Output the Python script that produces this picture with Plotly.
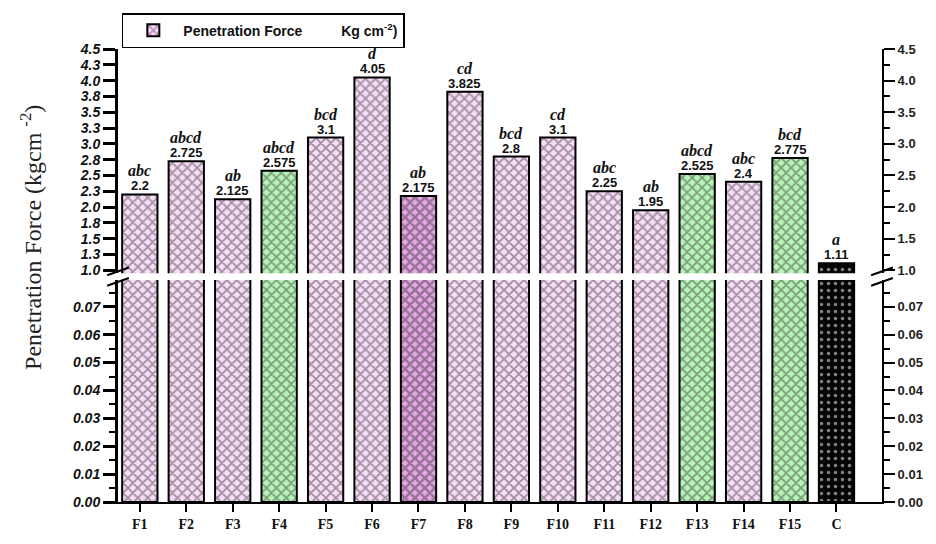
import plotly.graph_objects as go

# Formulations and measured penetration force (kg cm^-2)
categories = ["F1", "F2", "F3", "F4", "F5", "F6", "F7", "F8", "F9", "F10",
              "F11", "F12", "F13", "F14", "F15", "C"]
values = [2.2, 2.725, 2.125, 2.575, 3.1, 4.05, 2.175, 3.825, 2.8, 3.1,
          2.25, 1.95, 2.525, 2.4, 2.775, 1.11]
value_labels = ["2.2", "2.725", "2.125", "2.575", "3.1", "4.05", "2.175", "3.825",
                "2.8", "3.1", "2.25", "1.95", "2.525", "2.4", "2.775", "1.11"]
groups = ["abc", "abcd", "ab", "abcd", "bcd", "d", "ab", "cd", "bcd", "cd",
          "abc", "ab", "abcd", "abc", "bcd", "a"]
# fill style per bar: p = pink hatch, d = dark purple hatch, g = green hatch, k = black dots
styles = ["p", "p", "p", "g", "p", "p", "d", "p", "p", "p",
          "p", "p", "g", "p", "g", "k"]

# Left upper tick labels (0.25 steps, one decimal)
upper_ticks = [1.0, 1.25, 1.5, 1.75, 2.0, 2.25, 2.5, 2.75, 3.0, 3.25, 3.5, 3.75, 4.0, 4.25, 4.5]
upper_ticktext = ["1.0", "1.3", "1.5", "1.8", "2.0", "2.3", "2.5", "2.8", "3.0",
                  "3.3", "3.5", "3.8", "4.0", "4.3", "4.5"]

palette = {
    "p": dict(bg="#f8dcf8", fg="#7a467e", shape="x", solid=0.45),
    "d": dict(bg="#e9a6e9", fg="#430a47", shape="x", solid=0.6),
    "g": dict(bg="#b6f5b6", fg="#5a985a", shape="x", solid=0.45),
    "k": dict(bg="#050505", fg="#ffffff", shape=".", solid=0.2),
}
bg = [palette[s]["bg"] for s in styles]
fg = [palette[s]["fg"] for s in styles]
shapes_ = [palette[s]["shape"] for s in styles]
solid = [palette[s]["solid"] for s in styles]

SANS = "Liberation Sans, Arial, sans-serif"
SERIF = "Liberation Serif, Times New Roman, serif"

LOW_RANGE = [0, 0.0796]
UP_RANGE = [0.954, 4.5]
LOW_DOMAIN = [0, 0.490]
UP_DOMAIN = [0.505, 1.0]


def bar_trace(yaxis, show):
    return go.Bar(
        x=categories, y=values, xaxis="x", yaxis=yaxis, width=0.76,
        name="Penetration Force" + "\u00a0" * 10 + "Kg cm<sup>-2</sup>)",
        showlegend=show,
        marker=dict(
            color=bg,
            line=dict(color="#000000", width=2),
            pattern=dict(shape=shapes_, fgcolor=fg,
                         size=7, solidity=solid, fillmode="overlay"),
        ),
        hoverinfo="x+y",
    )


fig = go.Figure()
fig.add_trace(bar_trace("y", False))
fig.add_trace(bar_trace("y3", True))
# empty traces so the right-hand axes are rendered
for ax in ("y2", "y4"):
    fig.add_trace(go.Scatter(x=[], y=[], xaxis="x", yaxis=ax, showlegend=False,
                             hoverinfo="skip"))

tickfont_left = dict(family=SANS, size=14, color="#111111", weight="bold", style="italic")
tickfont_right = dict(family=SANS, size=13, color="#222222", weight="bold")

fig.update_layout(
    width=936, height=544,
    margin=dict(l=118, r=45, t=49, b=28),
    paper_bgcolor="white", plot_bgcolor="white",
    barmode="overlay",
    showlegend=True,
    legend=dict(x=0.005, y=1.079, xanchor="left", yanchor="top",
                bgcolor="white", bordercolor="#000000", borderwidth=1.5,
                font=dict(family=SANS, size=14, color="#111111", weight="bold"),
                itemwidth=50, tracegroupgap=0),
    xaxis=dict(
        anchor="y", range=[-0.47, 15.98], showline=True, linecolor="#000000",
        linewidth=2, ticks="outside", ticklen=8, tickwidth=2, tickcolor="#000000",
        tickfont=dict(family=SERIF, size=14, color="#111111", weight="bold"),
        showgrid=False, zeroline=False,
    ),
    yaxis=dict(
        domain=LOW_DOMAIN, range=LOW_RANGE, anchor="x", side="left",
        dtick=0.01, tick0=0, tickformat=".2f",
        showline=True, linecolor="#000000", linewidth=3,
        ticks="outside", ticklen=12, tickwidth=2.5, tickcolor="#000000",
        minor=dict(ticks="outside", dtick=0.005, ticklen=6, tickwidth=2, tickcolor="#000000"),
        tickfont=tickfont_left, showgrid=False, zeroline=False,
    ),
    yaxis2=dict(
        overlaying="y", side="right", anchor="x", range=LOW_RANGE,
        dtick=0.01, tick0=0, tickformat=".2f",
        showline=True, linecolor="#000000", linewidth=2,
        ticks="outside", ticklen=11, tickwidth=2, tickcolor="#000000",
        minor=dict(ticks="outside", dtick=0.005, ticklen=6, tickwidth=1.5, tickcolor="#000000"),
        tickfont=tickfont_right, showgrid=False, zeroline=False,
    ),
    yaxis3=dict(
        domain=UP_DOMAIN, range=UP_RANGE, anchor="x", side="left",
        tickmode="array", tickvals=upper_ticks, ticktext=upper_ticktext,
        showline=True, linecolor="#000000", linewidth=3,
        ticks="outside", ticklen=12, tickwidth=2.5, tickcolor="#000000",
        tickfont=tickfont_left, showgrid=False, zeroline=False,
    ),
    yaxis4=dict(
        overlaying="y3", side="right", anchor="x", range=UP_RANGE,
        dtick=0.5, tick0=0, tickformat=".1f",
        showline=True, linecolor="#000000", linewidth=2,
        ticks="outside", ticklen=11, tickwidth=2, tickcolor="#000000",
        minor=dict(ticks="outside", dtick=0.25, ticklen=6, tickwidth=1.5, tickcolor="#000000"),
        tickfont=tickfont_right, showgrid=False, zeroline=False,
    ),
)

annotations = []
for cat, v, lab, grp in zip(categories, values, value_labels, groups):
    annotations.append(dict(
        x=cat, y=v, xref="x", yref="y3", text=lab, showarrow=False,
        yanchor="bottom", yshift=-1,
        font=dict(family=SANS, size=13, color="#111111", weight="bold"),
    ))
    annotations.append(dict(
        x=cat, y=v, xref="x", yref="y3", text=grp, showarrow=False,
        yanchor="bottom", yshift=13,
        font=dict(family=SERIF, size=16, color="#111111", weight="bold", style="italic"),
    ))

annotations.append(dict(
    x=-0.114, y=0.585, xref="paper", yref="paper", textangle=-90,
    text="Penetration Force (kgcm <sup>-2</sup>)", showarrow=False,
    xanchor="center", yanchor="middle",
    font=dict(family=SERIF, size=24, color="#222222"),
))
fig.update_layout(annotations=annotations)

# Axis-break slashes on both vertical axes
gap_lo = LOW_DOMAIN[1]
gap_hi = UP_DOMAIN[0]
ph = 544 - 49 - 28
pw = 936 - 118 - 45
dy = 8 / ph
for xc in (0.0, 1.0):
    for yc in (gap_lo - 0.004, gap_hi + 0.004):
        fig.add_shape(type="line", xref="paper", yref="paper",
                      x0=xc - 11 / pw, x1=xc + 11 / pw,
                      y0=yc - dy / 2, y1=yc + dy / 2,
                      line=dict(color="#000000", width=2))

fig.write_html("out.html")
